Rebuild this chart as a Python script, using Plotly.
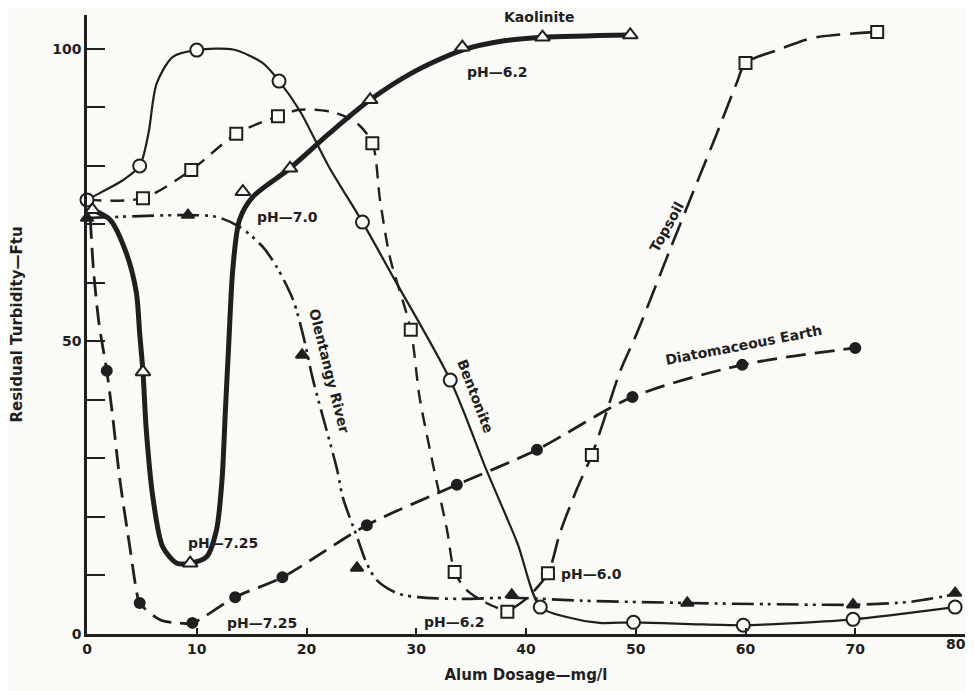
import plotly.graph_objects as go

# ---------------- data ----------------
x_ticks = [0, 10, 20, 30, 40, 50, 60, 70, 80]
x_ticklabels = ["0", "10", "20", "30", "40", "50", "60", "70", ""]   # "80" placed separately (sits at the clipped edge)
last_x_label = "80"
y_ticks = [0, 10, 20, 30, 40, 50, 60, 70, 80, 90, 100]
y_ticklabels = ["0", "", "", "", "", "50", "", "", "", "", "100"]

# Bentonite (open circles, thin solid)
bent_x = [0, 4.8, 10, 17.5, 25.1, 33.1, 41.3, 49.8, 59.8, 69.8, 79.1]
bent_y = [74.2, 80, 99.8, 94.5, 70.4, 43.4, 4.6, 2.0, 1.5, 2.5, 4.6]
bent_curve_x = [0, 1.2, 3.3, 4.8, 5.6, 6.35, 7.85, 10, 13.3, 16, 17.5, 19.4, 22,
                25.1, 27.9, 33.1, 36.4, 39.2, 41.3, 43.7, 46.7, 49.8, 55, 59.8, 65, 69.8, 79.1]
bent_curve_y = [74.2, 75.4, 77.6, 80, 85.6, 94.1, 98.7, 99.8, 99.9, 97.6, 94.5, 89.4, 80,
                70.4, 61, 43.4, 28, 15.6, 4.6, 2.9, 1.9, 2.0, 1.7, 1.5, 1.9, 2.5, 4.6]

# Kaolinite (open triangles, heavy solid)
kao_x = [0.5, 5.1, 9.4, 14.2, 18.5, 25.8, 34.2, 41.5, 49.5]
kao_y = [72.5, 44.8, 12.1, 75.6, 79.6, 91.3, 100.3, 102, 102.4]
kao_curve_x = [0.5, 2.1, 3.6, 4.5, 4.8, 5.1, 5.4, 6.0, 6.9, 8.2, 9.4, 10.9, 11.8, 12.3,
               12.6, 12.9, 13.3, 13.9, 15.1, 18.5, 22.1, 25.8, 29.7, 34.2, 38, 41.5, 49.5]
kao_curve_y = [72.5, 70.8, 65, 58.3, 51.4, 44.8, 34.9, 23.4, 14.9, 12.1, 12.1, 13.2, 17.8, 26.3,
               37.8, 49, 62.7, 70.8, 74.7, 79.6, 85.6, 91.3, 96, 99.8, 101.4, 102, 102.4]

# open squares, dashed (pH 6.2)
sq_x = [5.1, 9.5, 13.6, 17.4, 26.0, 29.5, 33.5, 38.3]
sq_y = [74.5, 79.3, 85.5, 88.5, 83.9, 52, 10.6, 3.8]
sq_curve_x = [0, 5.1, 9.5, 13.6, 17.4, 19.4, 22.4, 24.6, 26.0, 26.7, 27.6, 29.5, 30.3,
              31.5, 32.8, 33.5, 34.6, 36.4, 38.3]
sq_curve_y = [74.2, 74.5, 79.3, 85.5, 88.5, 89.6, 89.2, 87.3, 83.9, 74.2, 64.4, 52, 40.5,
              29.2, 17.8, 10.6, 7.5, 5.3, 3.8]

# Topsoil (open squares, long dashes, pH 6.0)
top_x = [42.0, 46.0, 60.0, 72.0]
top_y = [10.4, 30.6, 97.6, 102.9]
top_curve_x = [38.3, 40.0, 42.0, 43.1, 44.6, 46.0, 47.0, 48.6, 50.1, 53.1, 55.2, 57.4,
               59.2, 60.0, 62.9, 66.2, 72.0]
top_curve_y = [3.8, 6.0, 10.4, 17.3, 24.6, 30.6, 36, 45, 51.4, 65.6, 75.4, 85.6,
               94.2, 97.6, 99.8, 101.9, 102.9]

# Diatomaceous Earth (filled circles, dashed)
dia_x = [1.8, 4.8, 9.6, 13.5, 17.8, 25.5, 33.7, 41.0, 49.7, 59.7, 70.0]
dia_y = [45, 5.3, 1.9, 6.3, 9.7, 18.6, 25.5, 31.5, 40.5, 46, 48.9]
dia_curve_x = [0.3, 0.6, 1.1, 1.8, 2.3, 3.0, 3.9, 4.5, 4.8, 6.7, 8.2, 9.6, 13.5, 17.8,
               25.5, 33.7, 41.0, 49.7, 59.7, 70.0]
dia_curve_y = [71, 62, 53, 45, 37.8, 26.3, 14.9, 7.5, 5.3, 2.4, 1.9, 1.9, 6.3, 9.7,
               18.6, 25.5, 31.5, 40.5, 46, 48.9]

# Olentangy River (filled triangles, dash-dot-dot)
ole_x = [0, 9.2, 19.6, 24.6, 38.7, 54.7, 69.8, 79.1]
ole_y = [71.1, 71.6, 47.7, 11.3, 6.7, 5.3, 5.0, 7.0]
ole_curve_x = [0, 9.2, 11.8, 13.9, 16, 17.3, 18.8, 19.7, 20.6, 22.8, 23.3, 24.6, 25.5,
               26.4, 28.2, 30.1, 34, 38.7, 45, 54.7, 62, 69.8, 75, 79.1]
ole_curve_y = [71.1, 71.6, 71.3, 69.6, 66.2, 62.7, 57, 51, 43.4, 28, 23.4, 16.6, 12,
               9.2, 7, 6.3, 6.0, 6.2, 5.7, 5.3, 5.1, 5.0, 5.5, 6.8]

# ---------------- styling ----------------
INK = "#1f1f1f"
BG = "#fafaf7"
FONT = "DejaVu Sans"

fig = go.Figure()


def curve(xs, ys, width, dash, smooth=0.8):
    fig.add_trace(go.Scatter(x=xs, y=ys, mode="lines",
                             line=dict(color=INK, width=width, dash=dash,
                                       shape="spline", smoothing=smooth),
                             hoverinfo="skip", showlegend=False, cliponaxis=False))


def marks(xs, ys, symbol, size, filled):
    fig.add_trace(go.Scatter(x=xs, y=ys, mode="markers",
                             marker=dict(symbol=symbol, size=size,
                                         color=INK if filled else BG,
                                         line=dict(color=INK, width=2)),
                             showlegend=False, cliponaxis=False))


curve(bent_curve_x, bent_curve_y, 2.2, "solid")
curve(kao_curve_x, kao_curve_y, 5, "solid")
curve(sq_curve_x, sq_curve_y, 2.4, "14px,9px")
curve(top_curve_x, top_curve_y, 2.6, "24px,10px")
curve(dia_curve_x, dia_curve_y, 2.8, "20px,9px")
curve(ole_curve_x, ole_curve_y, 2.6, "22px,6px,3px,5px,3px,6px")

marks(bent_x, bent_y, "circle", 13, False)
marks(kao_x, kao_y, "triangle-up", 13, False)
marks(sq_x, sq_y, "square", 12, False)
marks(top_x, top_y, "square", 12, False)
marks(dia_x, dia_y, "circle", 10, True)
marks(ole_x, ole_y, "triangle-up", 11, True)

labels = [
    ("Kaolinite", 41.2, 105.5, 0),
    ("pH\u20146.2", 37.4, 96.1, 0),
    ("pH\u20147.0", 18.3, 71.3, 0),
    ("pH\u20147.25", 12.4, 15.6, 0),
    ("pH\u20147.25", 15.9, 1.9, 0),
    ("pH\u20146.2", 33.5, 2.1, 0),
    ("pH\u20146.0", 46.0, 10.3, 0),
    ("Olentangy River", 22.1, 45.0, 76),
    ("Bentonite", 35.4, 40.7, 69),
    ("Topsoil", 52.8, 69.6, -61),
    ("Diatomaceous Earth", 59.8, 49.4, -11),
]
for txt, lx, ly, ang in labels:
    fig.add_annotation(x=lx, y=ly, text=txt, showarrow=False, textangle=ang,
                       font=dict(family=FONT, size=14, color=INK, weight="bold"),
                       xanchor="center", yanchor="middle")

# last x tick label, pulled in from the figure edge as in the original
fig.add_annotation(x=79.2, xref="x", y=-0.016, yref="paper", text=last_x_label,
                   showarrow=False,
                   font=dict(family=FONT, size=14, color=INK, weight="bold"),
                   xanchor="center", yanchor="middle")

# page body adds an 8px offset, so the figure is sized/margined to compensate
fig.update_layout(
    width=966, height=683,
    margin=dict(l=79, r=9, t=7, b=57),
    paper_bgcolor=BG, plot_bgcolor=BG,
    font=dict(family=FONT, color=INK),
    xaxis=dict(range=[0, 80], tickvals=x_ticks, ticktext=x_ticklabels,
               ticks="inside", ticklen=6, tickwidth=2, tickcolor=INK,
               showline=True, linecolor=INK, linewidth=2.5, showgrid=False, zeroline=False,
               automargin=False,
               tickfont=dict(family=FONT, size=14, color=INK, weight="bold"),
               title=dict(text="Alum Dosage\u2014mg/l", standoff=14,
                          font=dict(family=FONT, size=15, color=INK, weight="bold"))),
    yaxis=dict(range=[0, 105.8], tickvals=y_ticks, ticktext=y_ticklabels,
               ticks="inside", ticklen=18, tickwidth=2, tickcolor=INK,
               showline=True, linecolor=INK, linewidth=2.5, showgrid=False, zeroline=False,
               automargin=False,
               tickfont=dict(family=FONT, size=14, color=INK, weight="bold"),
               title=dict(text="Residual Turbidity\u2014Ftu", standoff=30,
                          font=dict(family=FONT, size=15, color=INK, weight="bold"))),
)

fig.write_html("out.html")
